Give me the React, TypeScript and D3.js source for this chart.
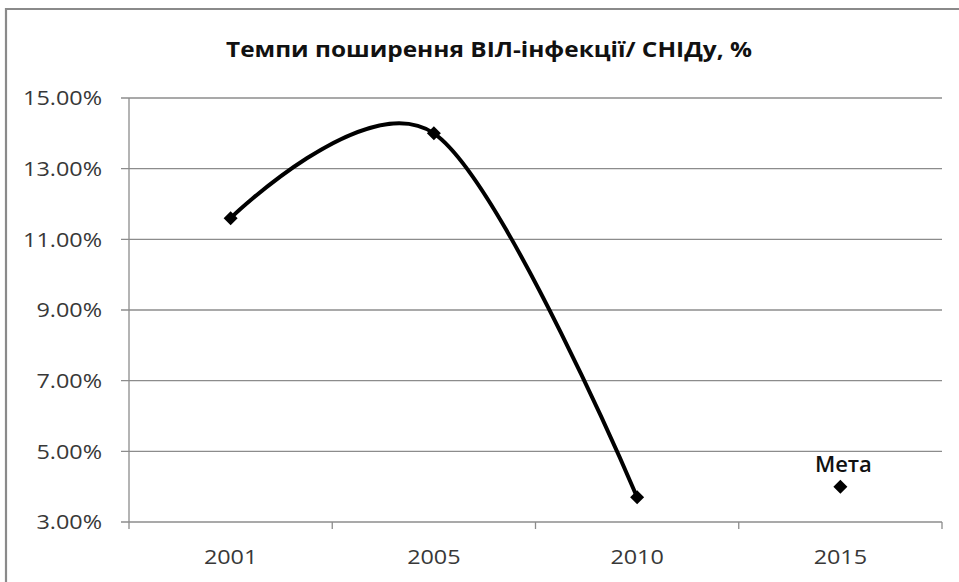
import React from "react";
import * as d3 from "d3";

const title = "Темпи поширення ВІЛ-інфекції/ СНІДу, %";
const categories = ["2001", "2005", "2010", "2015"];
const lineValues = [11.6, 14.0, 3.7];
const targetValue = 4.0;
const targetLabel = "Мета";
const yTicks = [3, 5, 7, 9, 11, 13, 15];

const W = 959;
const H = 582;
const plot = { left: 129, right: 942, top: 98, bottom: 522 };

export default function App() {
  const x = d3
    .scaleBand<string>()
    .domain(categories)
    .range([plot.left, plot.right])
    .paddingInner(0)
    .paddingOuter(0);
  const y = d3.scaleLinear().domain([3, 15]).range([plot.bottom, plot.top]);
  const cx = (c: string) => (x(c) as number) + x.bandwidth() / 2;

  const pts: [number, number][] = lineValues.map((v, i) => [cx(categories[i]), y(v)]);
  const lineGen = d3.line().curve(d3.curveCardinal.tension(0));
  const path = lineGen(pts) || "";

  const diamond = (px: number, py: number, s = 7) =>
    `M${px},${py - s}L${px + s},${py}L${px},${py + s}L${px - s},${py}Z`;

  const boundaries = [...categories.map((c) => x(c) as number), plot.right];
  const font = "'Open Sans', 'Noto Sans', sans-serif";
  const sx = 1.17;

  return (
    <svg
      width={W}
      height={H}
      style={{ position: "absolute", left: 0, top: 0, background: "#fff" }}
    >
      <rect x={0} y={0} width={W} height={H} fill="#fff" />
      {/* outer chart border */}
      <path d={`M6,${H}L6,9L${W},9`} fill="none" stroke="#8a8a8a" strokeWidth={2.2} />

      <text
        x={489}
        y={57}
        textAnchor="middle"
        fontFamily={font}
        fontWeight={700}
        fontSize={22}
        fill="#111"
        textLength={526}
        lengthAdjust="spacingAndGlyphs"
      >
        {title}
      </text>

      {/* gridlines */}
      {yTicks.map((t) => (
        <line
          key={t}
          x1={plot.left - 8}
          x2={plot.right}
          y1={y(t)}
          y2={y(t)}
          stroke="#8c8c8c"
          strokeWidth={1.3}
        />
      ))}
      {/* y axis */}
      <line x1={plot.left} x2={plot.left} y1={plot.top} y2={plot.bottom} stroke="#8c8c8c" strokeWidth={1.3} />
      {/* x ticks */}
      {boundaries.map((b, i) => (
        <line key={i} x1={b} x2={b} y1={plot.bottom} y2={plot.bottom + 7} stroke="#8c8c8c" strokeWidth={1.3} />
      ))}

      {yTicks.map((t) => (
        <g key={t} transform={`translate(102,${y(t)}) scale(${sx},1)`}>
          <text
            dy="0.36em"
            textAnchor="end"
            fontFamily={font}
            fontSize={20}
            fill="#383838"
          >
            {t.toFixed(2) + "%"}
          </text>
        </g>
      ))}
      {categories.map((c) => (
        <g key={c} transform={`translate(${cx(c)},557) scale(${sx},1)`}>
          <text
            dy="0.36em"
            textAnchor="middle"
            fontFamily={font}
            fontSize={20}
            fill="#383838"
          >
            {c}
          </text>
        </g>
      ))}

      <path d={path} fill="none" stroke="#000" strokeWidth={4} strokeLinecap="round" />
      {pts.map((p, i) => (
        <path key={i} d={diamond(p[0], p[1])} fill="#000" />
      ))}
      <path d={diamond(cx(categories[3]), y(targetValue))} fill="#000" />
      <text
        x={cx(categories[3]) + 3}
        y={472}
        textAnchor="middle"
        fontFamily={font}
        fontWeight={600}
        fontSize={21}
        fill="#111"
        textLength={57}
        lengthAdjust="spacingAndGlyphs"
      >
        {targetLabel}
      </text>
    </svg>
  );
}
